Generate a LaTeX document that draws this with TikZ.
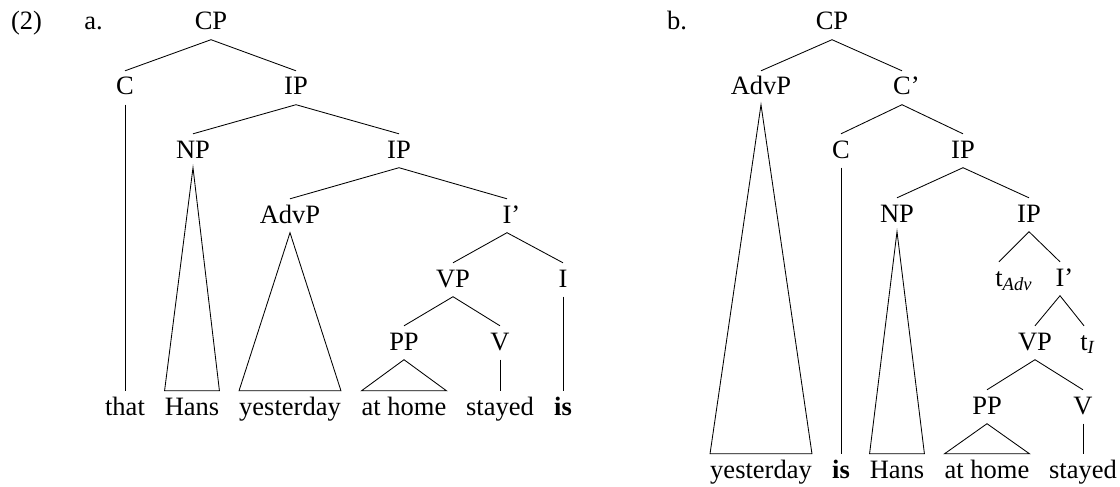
\documentclass[tikz,border=0pt]{standalone}
\usepackage{fontspec}
\setmainfont{Liberation Serif}
\begin{document}
\begin{tikzpicture}[x=1pt,y=-1pt,
  every node/.style={font=\fontsize{26.5}{30}\selectfont},
  cat/.style={inner xsep=0pt, inner ysep=6.5pt, text height=17.5pt, text depth=3pt, anchor=base},
  lbl/.style={inner sep=0pt, anchor=base},
  br/.style={line width=0.85pt, line join=miter}]
\useasboundingbox (0,0) rectangle (1120,487);
% labels
\node[lbl] (num) at (26.5,30) {(2)};
\node[lbl] (la) at (93.5,30) {a.};
\node[lbl] (lb) at (677,30) {b.};
% ---------- tree a ----------
\node[cat] (cpa) at (211,30) {CP};
\node[cat] (ca) at (125,95) {C};
\node[cat] (ipa) at (296,95) {IP};
\node[cat] (npa) at (193,158) {NP};
\node[cat] (ipb) at (399,158) {IP};
\node[cat] (advpa) at (290,223) {AdvP};
\node[cat] (ibara) at (507,223) {I\rlap{’}};
\node[cat] (vpa) at (453,287) {VP};
\node[cat] (ia) at (563,287) {I};
\node[cat] (ppa) at (404,350) {PP};
\node[cat] (va) at (500,350) {V};
\node[cat] (thata) at (125,415) {that};
\node[cat] (hansa) at (192,415) {Hans};
\node[cat] (yesta) at (290,415) {yesterday};
\node[cat] (homea) at (404,415) {at home};
\node[cat] (staya) at (500,415) {stayed};
\node[cat] (isa) at (563,415) {\textbf{is}};
\draw[br] (ca.north) -- (cpa.south) -- (ipa.north);
\draw[br] (ca.south) -- (thata.north);
\draw[br] (npa.north) -- (ipa.south) -- (ipb.north);
\draw[br] (npa.south) -- (hansa.north west) -- (hansa.north east) -- cycle;
\draw[br] (advpa.north) -- (ipb.south) -- (ibara.north);
\draw[br] (advpa.south) -- (yesta.north west) -- (yesta.north east) -- cycle;
\draw[br] (vpa.north) -- (ibara.south) -- (ia.north);
\draw[br] (ia.south) -- (isa.north);
\draw[br] (ppa.north) -- (vpa.south) -- (va.north);
\draw[br] (ppa.south) -- (homea.north west) -- (homea.north east) -- cycle;
\draw[br] (va.south) -- (staya.north);
% ---------- tree b ----------
\node[cat] (cpb) at (832,30) {CP};
\node[cat] (advpb) at (761,95) {AdvP};
\node[cat] (cbarb) at (902,95) {C\rlap{’}};
\node[cat] (cb) at (841,158) {C};
\node[cat] (ipc) at (963,158) {IP};
\node[cat] (npb) at (897,222) {NP};
\node[cat] (ipd) at (1029,222) {IP};
\node[cat] (tadv) at (999,286) {t\rlap{\textsubscript{\textit{Adv}}}};
\node[cat] (ibarb) at (1060,286) {I\rlap{’}};
\node[cat] (vpb) at (1035,350) {VP};
\node[cat] (ti) at (1084,350) {t\rlap{\textsubscript{\textit{I}}}};
\node[cat] (ppb) at (987,414) {PP};
\node[cat] (vb) at (1083,414) {V};
\node[cat] (yestb) at (761,478) {yesterday};
\node[cat] (isb) at (841,478) {\textbf{is}};
\node[cat] (hansb) at (897,478) {Hans};
\node[cat] (homeb) at (987,478) {at home};
\node[cat] (stayb) at (1083,478) {stayed};
\draw[br] (advpb.north) -- (cpb.south) -- (cbarb.north);
\draw[br] (advpb.south) -- (yestb.north west) -- (yestb.north east) -- cycle;
\draw[br] (cb.north) -- (cbarb.south) -- (ipc.north);
\draw[br] (cb.south) -- (isb.north);
\draw[br] (npb.north) -- (ipc.south) -- (ipd.north);
\draw[br] (npb.south) -- (hansb.north west) -- (hansb.north east) -- cycle;
\draw[br] (tadv.north) -- (ipd.south) -- (ibarb.north);
\draw[br] (vpb.north) -- (ibarb.south) -- (ti.north);
\draw[br] (ppb.north) -- (vpb.south) -- (vb.north);
\draw[br] (ppb.south) -- (homeb.north west) -- (homeb.north east) -- cycle;
\draw[br] (vb.south) -- (stayb.north);
\end{tikzpicture}
\end{document}
